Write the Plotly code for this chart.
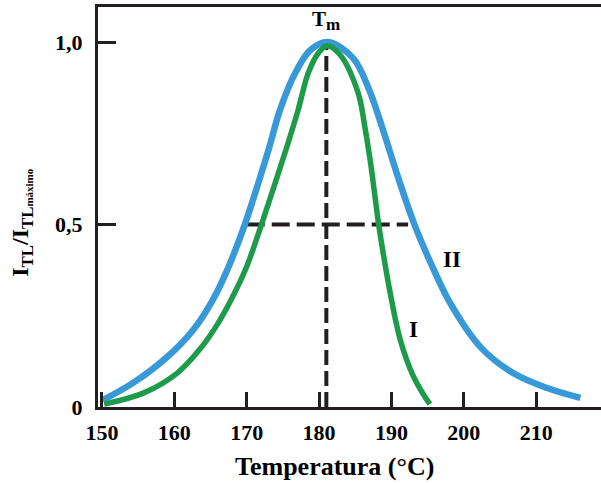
import plotly.graph_objects as go

# Curve II (blue)
t_ii = [150.1, 154.3, 159.0, 162.6, 165.3, 167.3, 169.8, 173.0, 174.6, 176.7, 178.8, 181.2,
        184.7, 186.9, 188.9, 190.9, 193.1, 195.3, 198.1, 202.3, 206.8, 211.5, 216.1]
y_ii = [0.019, 0.066, 0.137, 0.211, 0.293, 0.375, 0.504, 0.704, 0.814, 0.915, 0.978, 1.0,
        0.956, 0.870, 0.755, 0.630, 0.504, 0.400, 0.285, 0.164, 0.093, 0.052, 0.025]

# Curve I (green)
t_i = [150.3, 155.7, 160.4, 163.6, 165.9, 168.0, 170.0, 172.1, 175.4, 177.1, 178.5, 179.9, 181.1,
       182.9, 185.4, 186.3, 187.1, 187.7, 188.2, 188.7, 189.8, 191.2, 193.0, 194.4, 195.3]
y_i = [0.008, 0.038, 0.093, 0.160, 0.225, 0.300, 0.385, 0.504, 0.704, 0.814, 0.915, 0.970, 0.99,
       0.965, 0.860, 0.770, 0.670, 0.580, 0.504, 0.440, 0.315, 0.185, 0.085, 0.035, 0.008]

tm = 181.0
half_x = [170.0, 192.3]
half_y = [0.5, 0.5]

x_ticks = [150, 160, 170, 180, 190, 200, 210]
y_ticks = [0, 0.5, 1.0]
y_ticktext = ["0", "0,5", "1,0"]

dark = "#231f20"
serif = "Liberation Serif"

fig = go.Figure()
fig.add_trace(go.Scatter(x=[tm, tm], y=[0, 0.99], mode="lines",
                         line=dict(color=dark, width=4, dash="15px,6px"), showlegend=False))
fig.add_trace(go.Scatter(x=half_x, y=half_y, mode="lines",
                         line=dict(color=dark, width=4, dash="18px,7px"), showlegend=False))
fig.add_trace(go.Scatter(x=t_ii, y=y_ii, mode="lines",
                         line=dict(color="#3799d8", width=6.5, shape="spline", smoothing=1.0),
                         showlegend=False))
fig.add_trace(go.Scatter(x=t_i, y=y_i, mode="lines",
                         line=dict(color="#1d9a4a", width=5.5, shape="spline", smoothing=1.0),
                         showlegend=False))

fig.update_layout(
    width=601, height=483,
    margin=dict(l=98, r=0, t=7, b=76),
    plot_bgcolor="white", paper_bgcolor="white",
    xaxis=dict(range=[149.45, 218.95], tickvals=x_ticks, ticks="inside", ticklen=15, tickwidth=3,
               tickcolor=dark, showline=True, linecolor=dark, linewidth=3, mirror=True,
               showgrid=False, zeroline=False, ticklabelstandoff=4,
               tickfont=dict(family=serif, size=22, color="black", weight="bold")),
    yaxis=dict(range=[0, 1.096], tickvals=y_ticks, ticktext=y_ticktext, ticks="inside", ticklen=18,
               tickwidth=3, tickcolor=dark, showline=True, linecolor=dark, linewidth=3,
               showgrid=False, zeroline=False, ticklabelstandoff=8,
               tickfont=dict(family=serif, size=22, color="black", weight="bold")),
)

fig.add_annotation(xref="paper", yref="paper", x=0.471, y=-0.1475, text="<b>Temperatura (°C)</b>",
                   showarrow=False, font=dict(family=serif, size=26, color="black"),
                   xanchor="center", yanchor="middle")
fig.add_annotation(xref="paper", yref="paper", x=-0.150, y=0.462,
                   text="<b>I<sub>TL</sub>/I<sub>TL<span style='font-size:11px'>máximo</span></sub></b>",
                   textangle=-90, showarrow=False, font=dict(family=serif, size=24, color="black"),
                   xanchor="center", yanchor="middle")
fig.add_annotation(x=tm, y=1.058, text="<b>T<sub><span style='font-size:17px'>m</span></sub></b>",
                   showarrow=False, font=dict(family=serif, size=21, color="black"),
                   xanchor="center", yanchor="middle")
fig.add_annotation(x=198.4, y=0.403, text="<b>II</b>", showarrow=False,
                   font=dict(family=serif, size=23, color="black"), xanchor="center", yanchor="middle")
fig.add_annotation(x=193.0, y=0.211, text="<b>I</b>", showarrow=False,
                   font=dict(family=serif, size=23, color="black"), xanchor="center", yanchor="middle")

fig.write_html("out.html")
